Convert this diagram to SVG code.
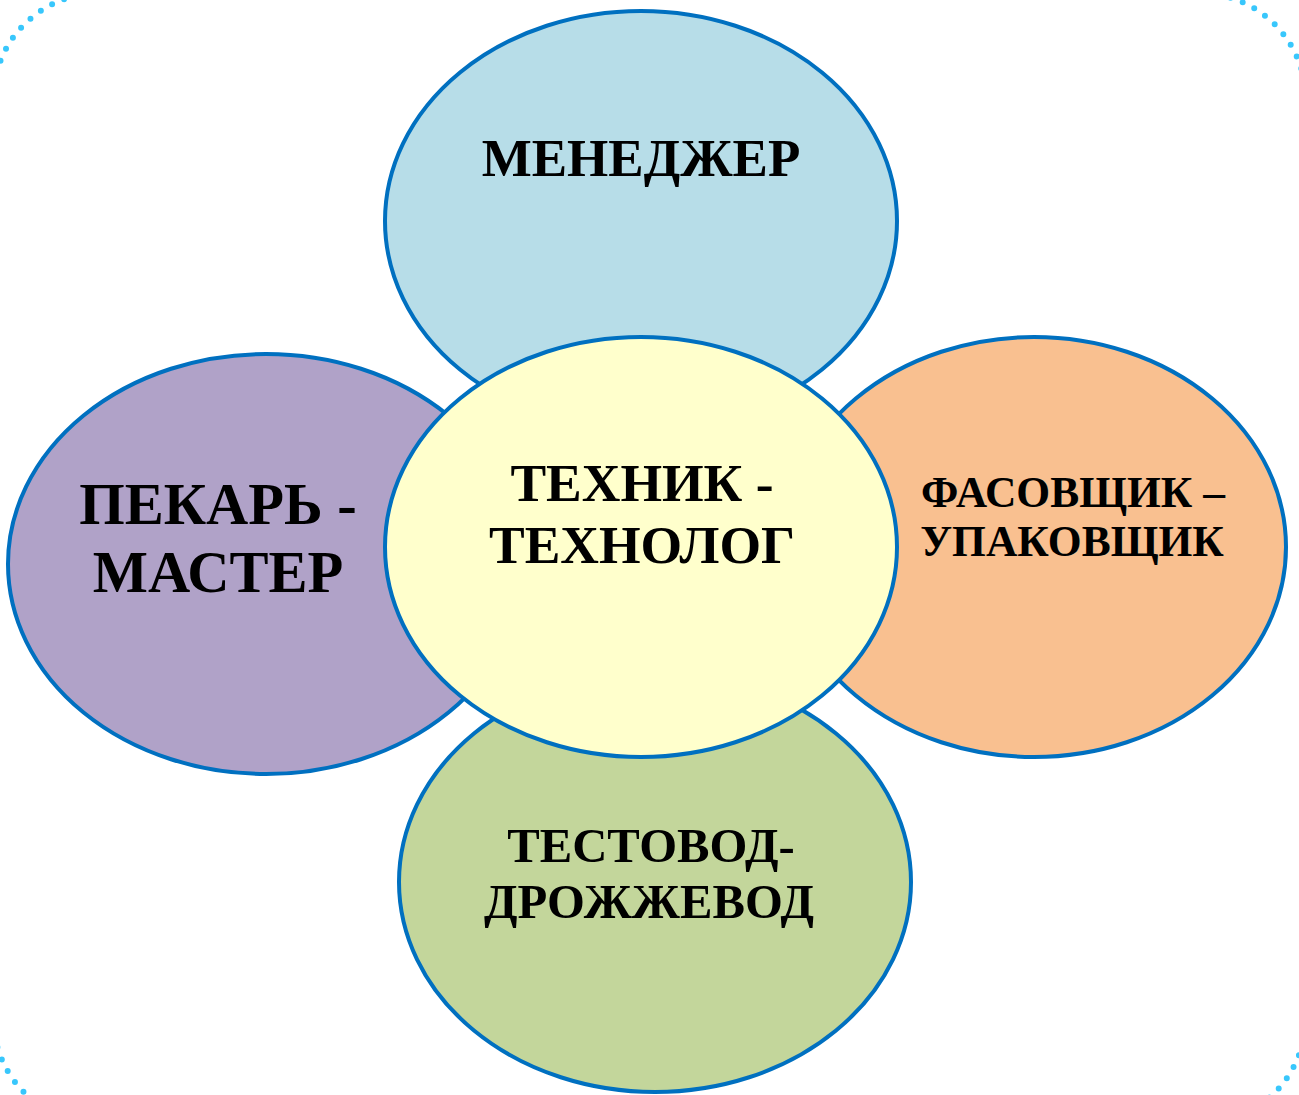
<svg xmlns="http://www.w3.org/2000/svg" width="1299" height="1095" viewBox="0 0 1299 1095">
<style>
.n{stroke:#0070c0;stroke-width:4}
.t{font-family:"Liberation Serif","Times New Roman",serif;font-weight:bold;fill:#000;text-anchor:middle}
</style>
<rect x="-7" y="-7" width="1313" height="1131" rx="107" fill="none" stroke="#38c7fc" stroke-width="6" stroke-linecap="round" stroke-dasharray="0 13"/>
<g id="top"><ellipse class="n" cx="641" cy="221" rx="256" ry="210" fill="#b7dde8"/><text class="t" x="641" y="176" font-size="53">МЕНЕДЖЕР</text></g>
<g id="left"><ellipse class="n" cx="266" cy="564" rx="258" ry="210" fill="#b0a2c8"/><text class="t" font-size="58.5"><tspan x="218" y="524">ПЕКАРЬ -</tspan><tspan x="218" y="592">МАСТЕР</tspan></text></g>
<g id="right"><ellipse class="n" cx="1034" cy="547" rx="252" ry="210" fill="#f9c090"/><text class="t" font-size="43.5"><tspan x="1073" y="507">ФАСОВЩИК –</tspan><tspan x="1072" y="556">УПАКОВЩИК</tspan></text></g>
<g id="bottom"><ellipse class="n" cx="655" cy="882" rx="256" ry="210" fill="#c3d69b"/><text class="t" font-size="48.7"><tspan x="651" y="862">ТЕСТОВОД-</tspan><tspan x="649" y="918">ДРОЖЖЕВОД</tspan></text></g>
<g id="center"><ellipse class="n" cx="641" cy="547" rx="256" ry="210" fill="#ffffcc"/><text class="t" font-size="53.5"><tspan x="642" y="501">ТЕХНИК -</tspan><tspan x="642" y="563">ТЕХНОЛОГ</tspan></text></g>
<g id="connectors"></g>
</svg>
